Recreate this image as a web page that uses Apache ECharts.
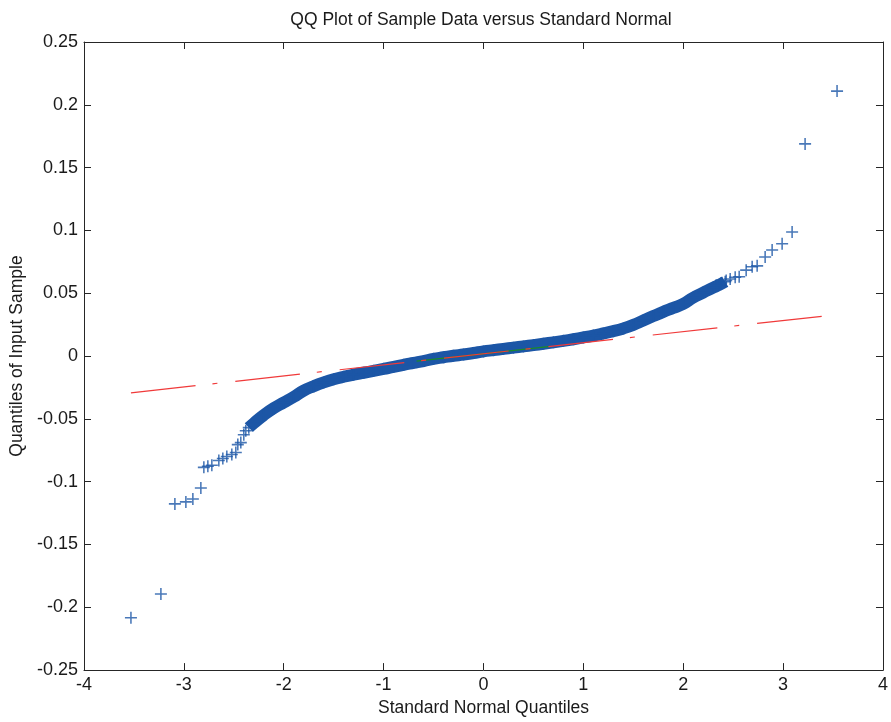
<!DOCTYPE html>
<html>
<head>
<meta charset="utf-8">
<title>QQ Plot</title>
<script src="https://cdn.jsdelivr.net/npm/echarts@6/dist/echarts.min.js"></script>
<style>
  html, body { margin: 0; padding: 0; background: #fff; }
  #chart { width: 891px; height: 722px; }
</style>
</head>
<body>
<div id="chart"></div>
<script>
// isolated points in the lower tail (theoretical quantile, sample quantile)
const lowTailX = [-3.53, -3.23, -3.09, -2.98, -2.91, -2.83, -2.80, -2.76, -2.72, -2.65, -2.61, -2.57, -2.52, -2.48, -2.46, -2.43, -2.40, -2.38];
const lowTailY = [-0.2083, -0.1894, -0.1177, -0.1161, -0.1138, -0.1051, -0.0886, -0.0878, -0.0870, -0.0831, -0.0815, -0.0799, -0.0783, -0.0768, -0.0705, -0.0689, -0.0626, -0.0594];

// isolated points in the upper tail
const highTailX = [2.33, 2.38, 2.43, 2.47, 2.52, 2.56, 2.63, 2.69, 2.74, 2.82, 2.89, 2.99, 3.09, 3.22, 3.54];
const highTailY = [0.0563, 0.0582, 0.0601, 0.0614, 0.0627, 0.0632, 0.0684, 0.0711, 0.0718, 0.0789, 0.0844, 0.0894, 0.0988, 0.1689, 0.2109];

// dense middle band (read along the centre of the band)
const bandX = [-2.35, -2.3, -2.2, -2.1, -2.0, -1.9, -1.8, -1.7, -1.6, -1.5, -1.4, -1.3, -1.2, -1.1, -1.0, -0.9, -0.8, -0.7, -0.6, -0.5,
  -0.4, -0.3, -0.2, -0.1, 0.0, 0.1, 0.2, 0.3, 0.4, 0.5, 0.6, 0.7, 0.8, 0.9, 1.0, 1.1, 1.2, 1.3, 1.4, 1.5,
  1.6, 1.7, 1.8, 1.9, 2.0, 2.1, 2.2, 2.3, 2.36, 2.42];
const bandY = [-0.057, -0.0535, -0.047, -0.0415, -0.037, -0.0325, -0.0275, -0.024, -0.021, -0.0185, -0.0165, -0.0148, -0.0133, -0.0118, -0.0102, -0.0087, -0.007, -0.0055, -0.004, -0.0022,
  -0.001, 0.0002, 0.0012, 0.0024, 0.0037, 0.0047, 0.0057, 0.0067, 0.0077, 0.0087, 0.0098, 0.0109, 0.0121, 0.0134, 0.0148, 0.0163, 0.018, 0.0198, 0.022, 0.0248,
  0.0283, 0.0318, 0.0352, 0.0383, 0.0415, 0.0465, 0.0505, 0.0545, 0.0566, 0.0592];

// reference line (dash-dot over the data range) and the quartile segment
const refLineX = [-3.53, 3.54];
const refLineY = [-0.0293, 0.0330];
const quartLineX = [-0.67, 0.67];
const quartLineY = [-0.0041, 0.0077];

const xTicks = { min: -4, max: 4, step: 1 };
const yTicks = { min: -0.25, max: 0.25, step: 0.05 };

const FONT = "'Liberation Sans', Arial, Helvetica, sans-serif";
const BLUE = "#1c56a6";
const AXIS = "#262626";
const TEXT = "#1a1a1a";

const pair = (xs, ys) => xs.map((x, i) => [x, ys[i]]);

const plusSymbol =
  "path://M-0.13,-1 L0.13,-1 L0.13,-0.13 L1,-0.13 L1,0.13 L0.13,0.13 L0.13,1 L-0.13,1 L-0.13,0.13 L-1,0.13 L-1,-0.13 L-0.13,-0.13 Z";

const chart = echarts.init(document.getElementById("chart"), null, { renderer: "canvas" });

const baseAxis = {
  type: "value",
  axisLine: { show: true, onZero: false, lineStyle: { color: AXIS, width: 1 } },
  axisTick: { show: true, inside: true, length: 7, lineStyle: { color: AXIS } },
  splitLine: { show: false },
};

const option = {
  animation: false,
  textStyle: { fontFamily: FONT },
  graphic: [
    {
      type: "text",
      x: 481,
      y: 20,
      style: {
        text: "QQ Plot of Sample Data versus Standard Normal",
        font: "17.5px " + FONT,
        fill: TEXT,
        textAlign: "center",
        textVerticalAlign: "middle",
      },
    },
  ],
  grid: { left: 84, right: 4, top: 42, bottom: 45, containLabel: false },
  xAxis: [
    {
      ...baseAxis,
      position: "bottom",
      min: xTicks.min,
      max: xTicks.max,
      interval: xTicks.step,
      name: "Standard Normal Quantiles",
      nameLocation: "middle",
      nameGap: 28,
      nameTextStyle: { fontSize: 17.5, color: TEXT, fontFamily: FONT },
      axisLabel: { fontSize: 18, color: TEXT, margin: 6, fontFamily: FONT },
    },
    {
      ...baseAxis,
      position: "top",
      min: xTicks.min,
      max: xTicks.max,
      interval: xTicks.step,
      axisLabel: { show: false },
    },
  ],
  yAxis: [
    {
      ...baseAxis,
      position: "left",
      min: yTicks.min,
      max: yTicks.max,
      interval: yTicks.step,
      name: "Quantiles of Input Sample",
      nameLocation: "middle",
      nameGap: 56,
      nameTextStyle: { fontSize: 17.5, color: TEXT, fontFamily: FONT },
      axisLabel: {
        fontSize: 18,
        color: TEXT,
        margin: 6,
        fontFamily: FONT,
        formatter: (v) => String(Math.round(v * 100) / 100),
      },
    },
    {
      ...baseAxis,
      position: "right",
      min: yTicks.min,
      max: yTicks.max,
      interval: yTicks.step,
      axisLabel: { show: false },
    },
  ],
  series: [
    {
      // solid band made of thousands of overlapping markers
      type: "line",
      data: pair(bandX, bandY),
      showSymbol: false,
      smooth: true,
      silent: true,
      z: 1,
      lineStyle: { color: BLUE, width: 12, cap: "butt", join: "round" },
    },
    {
      type: "scatter",
      data: [...pair(lowTailX, lowTailY), ...pair(bandX, bandY), ...pair(highTailX, highTailY)],
      symbol: plusSymbol,
      symbolSize: 12,
      silent: true,
      z: 2,
      itemStyle: { color: BLUE },
    },
    {
      type: "line",
      data: pair(quartLineX, quartLineY),
      showSymbol: false,
      silent: true,
      z: 3,
      lineStyle: { color: "#1a8a2a", width: 1.2 },
    },
    {
      type: "line",
      data: pair(refLineX, refLineY),
      showSymbol: false,
      silent: true,
      z: 4,
      lineStyle: { color: "#f03a3a", width: 1.2, type: [65, 17, 5, 18] },
    },
  ],
};

chart.setOption(option);
</script>
</body>
</html>
